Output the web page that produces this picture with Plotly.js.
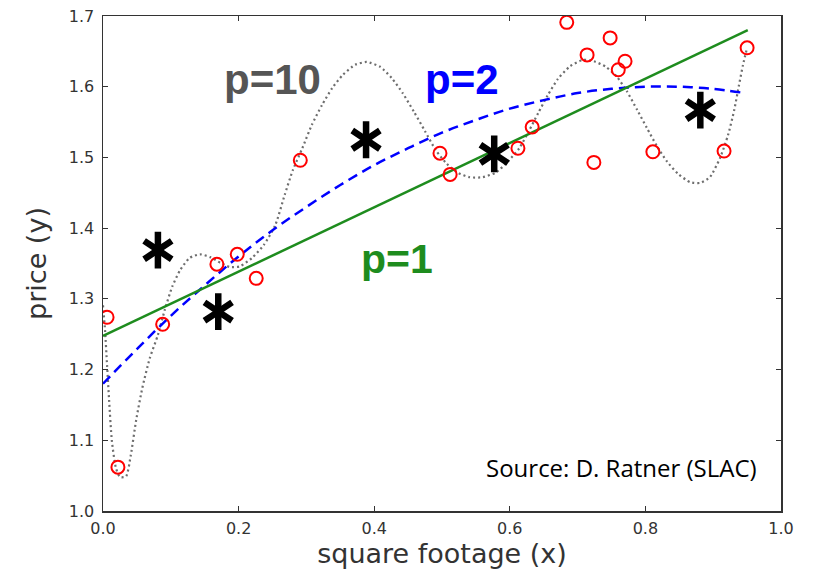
<!DOCTYPE html>
<html>
<head>
<meta charset="utf-8">
<script src="https://cdn.plot.ly/plotly-3.0.1.min.js"></script>
<style>html,body{margin:0;padding:0;background:#fff;}#chart{width:816px;height:575px;}</style>
</head>
<body>
<div id="chart"></div>
<script>
// Observed data points (red circles)
const dataX = [0.006, 0.022, 0.088, 0.168, 0.198, 0.226, 0.291, 0.497, 0.512, 0.612, 0.633, 0.684, 0.714, 0.724, 0.748, 0.760, 0.770, 0.811, 0.916, 0.950];
const dataY = [1.274, 1.062, 1.264, 1.349, 1.363, 1.329, 1.496, 1.506, 1.476, 1.513, 1.543, 1.691, 1.645, 1.493, 1.669, 1.624, 1.636, 1.508, 1.509, 1.655];

// p=1 fit (straight line)
const p1X = [0.0, 0.951];
const p1Y = [1.2475, 1.680];

// p=2 fit (dashed blue)
const p2X = [0, 0.05, 0.1, 0.15, 0.2, 0.25, 0.3, 0.35, 0.4, 0.45, 0.5, 0.55, 0.6, 0.65, 0.7, 0.75, 0.8, 0.85, 0.9, 0.94];
const p2Y = [1.180, 1.229, 1.276, 1.319, 1.360, 1.397, 1.430, 1.461, 1.489, 1.513, 1.535, 1.553, 1.569, 1.581, 1.591, 1.597, 1.600, 1.600, 1.597, 1.592];

// p=10 fit (dotted gray)
const p10X = [0, 0.003, 0.006, 0.009, 0.013, 0.019, 0.025, 0.034, 0.041, 0.049, 0.058, 0.069, 0.081, 0.091, 0.102, 0.114, 0.128, 0.143, 0.158, 0.173, 0.187, 0.202, 0.220, 0.237, 0.254, 0.268, 0.280, 0.294, 0.308, 0.323, 0.338, 0.354, 0.372, 0.389, 0.409, 0.426, 0.442, 0.459, 0.475, 0.491, 0.507, 0.524, 0.541, 0.560, 0.580, 0.597, 0.614, 0.628, 0.642, 0.656, 0.671, 0.689, 0.708, 0.724, 0.742, 0.758, 0.773, 0.788, 0.802, 0.817, 0.832, 0.848, 0.866, 0.881, 0.895, 0.910, 0.922, 0.931, 0.938, 0.944, 0.950];
const p10Y = [1.291, 1.256, 1.206, 1.157, 1.100, 1.061, 1.048, 1.049, 1.079, 1.129, 1.174, 1.216, 1.249, 1.284, 1.317, 1.341, 1.358, 1.363, 1.359, 1.351, 1.345, 1.346, 1.358, 1.376, 1.404, 1.447, 1.482, 1.513, 1.546, 1.574, 1.598, 1.617, 1.631, 1.635, 1.628, 1.612, 1.591, 1.564, 1.537, 1.510, 1.491, 1.478, 1.472, 1.472, 1.479, 1.494, 1.513, 1.537, 1.563, 1.588, 1.611, 1.629, 1.638, 1.636, 1.628, 1.614, 1.593, 1.567, 1.542, 1.516, 1.494, 1.477, 1.465, 1.464, 1.472, 1.499, 1.532, 1.567, 1.602, 1.631, 1.655];

// Asterisk (star) points
const starX = [0.081, 0.170, 0.388, 0.577, 0.881];
const starY = [1.369, 1.282, 1.525, 1.505, 1.567];

// Tick labels
const xTicks = [0.0, 0.2, 0.4, 0.6, 0.8, 1.0];
const xTickText = ["0.0", "0.2", "0.4", "0.6", "0.8", "1.0"];
const yTicks = [1.0, 1.1, 1.2, 1.3, 1.4, 1.5, 1.6, 1.7];
const yTickText = ["1.0", "1.1", "1.2", "1.3", "1.4", "1.5", "1.6", "1.7"];

const traces = [
  {x: p10X, y: p10Y, mode: 'lines', line: {color: '#6e6e6e', width: 2.2, dash: '2px,3px', shape: 'spline', smoothing: 0.6}, hoverinfo: 'skip'},
  {x: p2X, y: p2Y, mode: 'lines', line: {color: '#0000ff', width: 2.5, dash: '10px,6px', shape: 'spline'}, hoverinfo: 'skip'},
  {x: p1X, y: p1Y, mode: 'lines', line: {color: '#1e8c1e', width: 2.5}, hoverinfo: 'skip'},
  {x: dataX, y: dataY, mode: 'markers', marker: {symbol: 'circle-open', size: 13, color: '#ff0000', line: {width: 2, color: '#ff0000'}}},
  {x: starX, y: starY, mode: 'markers', marker: {symbol: 'y-up-open', size: 23, color: '#000000', line: {width: 6.5, color: '#000000'}}},
  {x: starX, y: starY, mode: 'markers', marker: {symbol: 'y-down-open', size: 23, color: '#000000', line: {width: 6.5, color: '#000000'}}}
];

const axisCommon = {
  showgrid: false, zeroline: false, showline: true, mirror: 'ticks',
  linecolor: '#333333', linewidth: 1.5, ticks: 'inside', ticklen: 5, tickwidth: 1, tickcolor: '#333333',
  tickfont: {family: 'DejaVu Sans', size: 16, color: '#333333'}
};

const layout = {
  width: 816, height: 575,
  margin: {l: 103, r: 35, t: 16, b: 64},
  paper_bgcolor: '#ffffff', plot_bgcolor: '#ffffff',
  showlegend: false,
  xaxis: Object.assign({}, axisCommon, {
    range: [0, 1], tickvals: xTicks, ticktext: xTickText, ticklabelstandoff: 2,
    title: {text: 'square footage (x)', font: {family: 'DejaVu Sans', size: 27, color: '#333333'}, standoff: 6}
  }),
  yaxis: Object.assign({}, axisCommon, {
    range: [1.0, 1.7], tickvals: yTicks, ticktext: yTickText, ticklabelstandoff: 4,
    title: {text: 'price (y)', font: {family: 'DejaVu Sans', size: 27, color: '#333333'}, standoff: 14}
  }),
  annotations: [
    {x: 0.250, y: 1.61, xref: 'x', yref: 'y', text: '<b>p=10</b>', showarrow: false, font: {family: 'Liberation Sans', size: 42, color: '#555555'}},
    {x: 0.530, y: 1.61, xref: 'x', yref: 'y', text: '<b>p=2</b>', showarrow: false, font: {family: 'Liberation Sans', size: 42, color: '#0000ff'}},
    {x: 0.434, y: 1.357, xref: 'x', yref: 'y', text: '<b>p=1</b>', showarrow: false, font: {family: 'Liberation Sans', size: 41, color: '#1e8c1e'}},
    {x: 0.968, y: 1.061, xref: 'x', yref: 'y', xanchor: 'right', text: 'Source: D. Ratner (SLAC)', showarrow: false, font: {family: 'Open Sans', size: 24, color: '#000000'}}
  ]
};

Plotly.newPlot('chart', traces, layout, {displayModeBar: false, staticPlot: true});
</script>
</body>
</html>
